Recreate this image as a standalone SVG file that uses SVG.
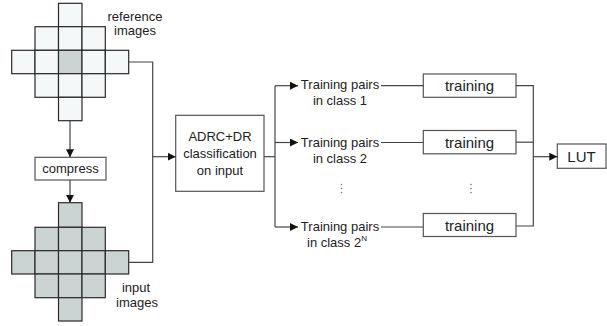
<svg xmlns="http://www.w3.org/2000/svg" width="607" height="326" viewBox="0 0 607 326">
  <defs>
    <marker id="arrow" viewBox="0 0 10 10" refX="10" refY="5" markerWidth="8" markerHeight="8" markerUnits="userSpaceOnUse" orient="auto">
      <path d="M0,0 L10,5 L0,10 z" fill="#111"/>
    </marker>
  </defs>
  <style>
    text { font-family: "Liberation Sans", Arial, sans-serif; fill: #222; }
    .lbl { font-size: 13px; text-anchor: middle; }
    .big { font-size: 15px; text-anchor: middle; }
    .box { fill: #fff; stroke: #555; stroke-width: 1.2; }
    .cell { stroke: #2a2a2a; stroke-width: 1.2; }
    .light { fill: #f4f8f8; }
    .dark { fill: #cbd4d2; }
    .wire { fill: none; stroke: #444; stroke-width: 1.2; }
    .dot { fill: #777; }
  </style>

  <!-- reference image grid (diamond of pixels, centre pixel shaded) -->
  <g id="reference-images">
    <rect class="cell light" x="58.5" y="3.3" width="23.5" height="23.4"/>
    <rect class="cell light" x="35" y="26.7" width="23.5" height="23.6"/>
    <rect class="cell light" x="58.5" y="26.7" width="23.5" height="23.6"/>
    <rect class="cell light" x="82" y="26.7" width="23.3" height="23.6"/>
    <rect class="cell light" x="11.7" y="50.3" width="23.3" height="23.4"/>
    <rect class="cell light" x="35" y="50.3" width="23.5" height="23.4"/>
    <rect class="cell dark" x="58.5" y="50.3" width="23.5" height="23.4"/>
    <rect class="cell light" x="82" y="50.3" width="23.3" height="23.4"/>
    <rect class="cell light" x="105.3" y="50.3" width="23.4" height="23.4"/>
    <rect class="cell light" x="35" y="73.7" width="23.5" height="23.6"/>
    <rect class="cell light" x="58.5" y="73.7" width="23.5" height="23.6"/>
    <rect class="cell light" x="82" y="73.7" width="23.3" height="23.6"/>
    <rect class="cell light" x="58.5" y="97.3" width="23.5" height="23.4"/>
    <text class="lbl" x="135" y="21">reference</text>
    <text class="lbl" x="135" y="35">images</text>
  </g>

  <!-- input image grid (all pixels shaded) -->
  <g id="input-images">
    <rect class="cell dark" x="58.5" y="202.7" width="23.5" height="24.6"/>
    <rect class="cell dark" x="35" y="227.3" width="23.5" height="23.4"/>
    <rect class="cell dark" x="58.5" y="227.3" width="23.5" height="23.4"/>
    <rect class="cell dark" x="82" y="227.3" width="23.3" height="23.4"/>
    <rect class="cell dark" x="11.7" y="250.7" width="23.3" height="23.3"/>
    <rect class="cell dark" x="35" y="250.7" width="23.5" height="23.3"/>
    <rect class="cell dark" x="58.5" y="250.7" width="23.5" height="23.3"/>
    <rect class="cell dark" x="82" y="250.7" width="23.3" height="23.3"/>
    <rect class="cell dark" x="105.3" y="250.7" width="23.4" height="23.3"/>
    <rect class="cell dark" x="35" y="274" width="23.5" height="23.7"/>
    <rect class="cell dark" x="58.5" y="274" width="23.5" height="23.7"/>
    <rect class="cell dark" x="82" y="274" width="23.3" height="23.7"/>
    <rect class="cell dark" x="58.5" y="297.7" width="23.5" height="23.3"/>
    <text class="lbl" x="136" y="292">input</text>
    <text class="lbl" x="137" y="307">images</text>
  </g>

  <g id="compress">
    <rect class="box" x="35" y="157.3" width="71" height="22.7"/>
    <text class="lbl" x="70.5" y="173">compress</text>
  </g>

  <g id="classifier">
    <rect class="box" x="175.7" y="115.3" width="88.3" height="76"/>
    <text class="lbl" x="220" y="141">ADRC+DR</text>
    <text class="lbl" x="220" y="158">classification</text>
    <text class="lbl" x="220" y="175">on input</text>
  </g>

  <g id="class-1">
    <text class="lbl" x="340" y="89">Training pairs</text>
    <text class="lbl" x="340" y="105">in class 1</text>
  </g>
  <g id="class-2">
    <text class="lbl" x="340" y="147">Training pairs</text>
    <text class="lbl" x="340" y="163">in class 2</text>
  </g>
  <g id="class-2N">
    <text class="lbl" x="340" y="231">Training pairs</text>
    <text class="lbl" x="337" y="247">in class 2<tspan font-size="8" dy="-6">N</tspan></text>
  </g>

  <g id="training-1">
    <rect class="box" x="423.3" y="74" width="92.7" height="23.3"/>
    <text class="big" x="469.5" y="91">training</text>
  </g>
  <g id="training-2">
    <rect class="box" x="423.3" y="130.5" width="92.7" height="23.3"/>
    <text class="big" x="469.5" y="147.5">training</text>
  </g>
  <g id="training-2N">
    <rect class="box" x="423.3" y="213.5" width="92.7" height="23"/>
    <text class="big" x="469.5" y="230.5">training</text>
  </g>

  <g id="lut">
    <rect class="box" x="557.3" y="144" width="48.7" height="24.3"/>
    <text class="big" x="581.5" y="162">LUT</text>
  </g>

  <!-- vertical ellipses between class rows -->
  <g id="ellipsis">
    <circle class="dot" cx="341.5" cy="184.5" r="0.8"/>
    <circle class="dot" cx="341.5" cy="188.5" r="0.8"/>
    <circle class="dot" cx="341.5" cy="192.5" r="0.8"/>
    <circle class="dot" cx="471" cy="184.5" r="0.8"/>
    <circle class="dot" cx="471" cy="188.5" r="0.8"/>
    <circle class="dot" cx="471" cy="192.5" r="0.8"/>
  </g>

  <g id="connectors">
    <path class="wire" d="M70,120.7 V157.3" marker-end="url(#arrow)"/>
    <path class="wire" d="M70,180 V202.7" marker-end="url(#arrow)"/>
    <path class="wire" d="M128.7,62 H152.7 V262.3 H128.7"/>
    <path class="wire" d="M152.7,156.7 H175.7" marker-end="url(#arrow)"/>
    <path class="wire" d="M264,156.7 H275"/>
    <path class="wire" d="M275,85.7 V227"/>
    <path class="wire" d="M275,85.7 H298" marker-end="url(#arrow)"/>
    <path class="wire" d="M275,142.5 H298" marker-end="url(#arrow)"/>
    <path class="wire" d="M275,227 H298" marker-end="url(#arrow)"/>
    <path class="wire" d="M381,85.7 H423.3"/>
    <path class="wire" d="M381,142.5 H423.3"/>
    <path class="wire" d="M381,227 H423.3"/>
    <path class="wire" d="M516,85.7 H533.3 V226 H516"/>
    <path class="wire" d="M516,142.2 H533.3"/>
    <path class="wire" d="M533.3,156.7 H557.3" marker-end="url(#arrow)"/>
  </g>
</svg>
